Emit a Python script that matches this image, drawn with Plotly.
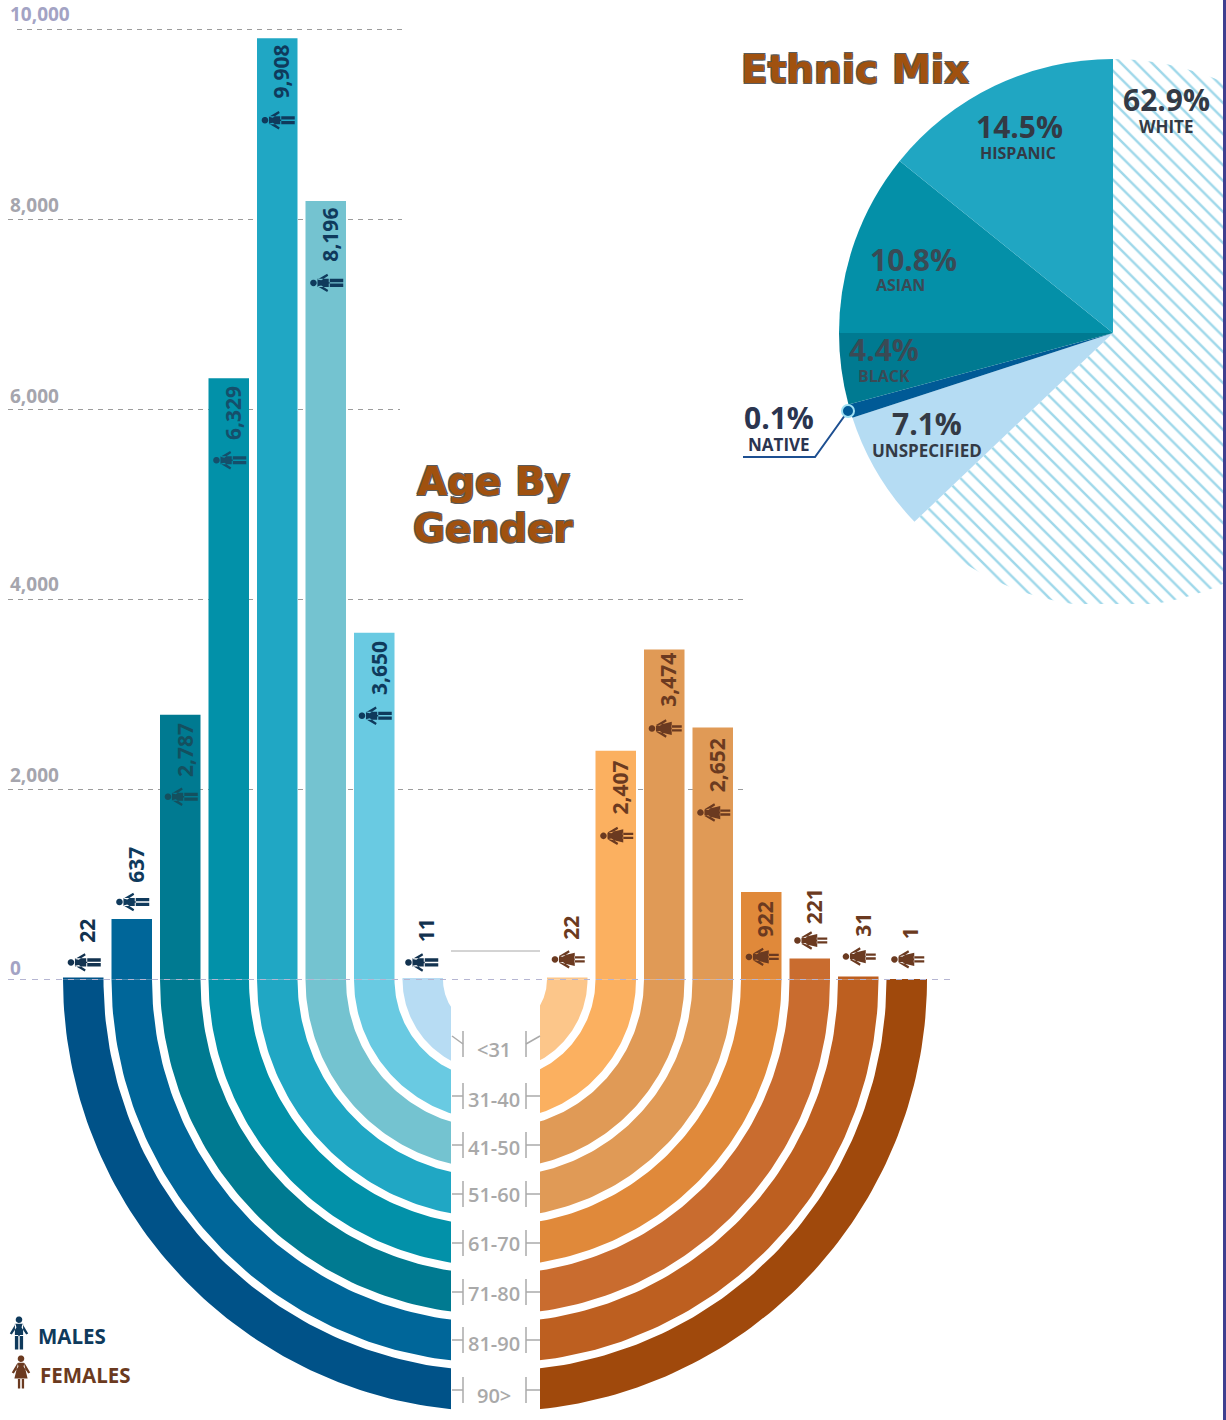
import numpy as np
import plotly.graph_objects as go

# ---------- data ----------
age_groups = ["<31", "31-40", "41-50", "51-60", "61-70", "71-80", "81-90", "90>"]
male_counts = [11, 3650, 8196, 9908, 6329, 2787, 637, 22]
female_counts = [22, 2407, 3474, 2652, 922, 221, 31, 1]
y_ticks = [0, 2000, 4000, 6000, 8000, 10000]

ethnic_names = ["WHITE", "UNSPECIFIED", "NATIVE", "BLACK", "ASIAN", "HISPANIC"]
ethnic_labels = ["62.9%", "7.1%", "0.1%", "4.4%", "10.8%", "14.5%"]
# drawn slice sizes as measured on the pie (the native wedge is drawn wider than its label)
ethnic_slices = [62.9, 7.1, 0.8, 4.2, 10.8, 14.2]

# ---------- styles ----------
male_colors = ["#b7dcf3", "#69cae2", "#74c3d0", "#20a7c4", "#0291a9", "#007a91", "#006699", "#005288"]
female_colors = ["#fcc68a", "#fbb060", "#e09a56", "#e09a56", "#e0893a", "#c96c2f", "#bd5f20", "#a0490c"]
male_text = ["#12324f", "#0f3a5c", "#0f3a5c", "#0f3a5c", "#154f6b", "#14505f", "#0f3a5c", "#12324f"]
pie_colors = ["#ffffff", "#b5dcf3", "#005a96", "#007a91", "#0490a8", "#20a6c2"]
FEMALE_TEXT = "#6b3a20"
NAVY = "#0f3a5c"
FONT = "Open Sans"
TITLE_FONT = "DejaVu Sans"
OUTLINE = "1px 1px 0 #5b5b5b, -1px -1px 0 #5b5b5b, 1px -1px 0 #5b5b5b, -1px 1px 0 #5b5b5b"

# ---------- layout constants ----------
W, H = 1400, 1420          # wider than the window: the pie runs off the right edge
Y0_PX = 979.5
SCALE = 0.095              # pixels per person
CX = 495
PITCH = 48.5
BAR_W = 40.5
R_OUT_MAX = 432


def val(py):
    return (Y0_PX - py) / SCALE


def px_of(v):
    return Y0_PX - v * SCALE


n = len(age_groups)
radii_out = [R_OUT_MAX - PITCH * (n - 1 - i) for i in range(n)]
male_x = [CX - r + BAR_W / 2 for r in radii_out]
female_x = [CX + r - BAR_W / 2 for r in radii_out]

fig = go.Figure()


def ring(r_out, theta0, theta1):
    t = np.radians(np.linspace(theta0, theta1, 90))
    r_in = r_out - BAR_W
    xs = np.r_[CX + r_out * np.cos(t), CX + r_in * np.cos(t[::-1])]
    ys = np.r_[r_out * np.sin(t), r_in * np.sin(t[::-1])] / SCALE
    return xs, ys


for i in range(n):
    for a, b, col in ((180, 270, male_colors[i]), (270, 360, female_colors[i])):
        xs, ys = ring(radii_out[i], a, b)
        fig.add_trace(go.Scatter(x=xs, y=ys, mode="lines", fill="toself", fillcolor=col,
                                 line=dict(width=0), hoverinfo="skip", showlegend=False))

fig.add_trace(go.Bar(x=male_x, y=male_counts, width=BAR_W, marker=dict(color=male_colors, line=dict(width=0)),
                     name="Males", showlegend=False))
fig.add_trace(go.Bar(x=female_x, y=female_counts, width=BAR_W, marker=dict(color=female_colors, line=dict(width=0)),
                     name="Females", showlegend=False))

hatch_fg = ["#9fd8ea"] * 6
fig.add_trace(go.Pie(
    values=ethnic_slices, labels=ethnic_names, sort=False, direction="clockwise", rotation=0,
    marker=dict(colors=pie_colors, line=dict(width=0),
                pattern=dict(shape=["\\", "", "", "", "", ""], fgcolor=hatch_fg, bgcolor=pie_colors,
                             size=11, solidity=0.22)),
    textinfo="none", showlegend=False,
    domain=dict(x=[839 / W, 1387 / W], y=[(H - 607) / H, (H - 59) / H]),
))

shapes = []
annots = []


def text(x, y, s, size, color, anchor="center", angle=0, yshift=0, xshift=0, family=FONT, weight=700, shadow=None):
    f = dict(family=family, size=size, color=color, weight=weight)
    if shadow:
        f["shadow"] = shadow
    annots.append(dict(x=x, y=y, text=s, showarrow=False, xref="x", yref="y", xanchor=anchor, yanchor="middle",
                       textangle=angle, yshift=yshift, xshift=xshift, font=f))


# ---------- gridlines and tick labels ----------
grid_right = {10000: 402, 8000: 402, 6000: 400, 4000: 743, 2000: 743}
for t in y_ticks[1:]:
    shapes.append(dict(type="line", layer="below", x0=17 if t == 10000 else 8, x1=grid_right[t], y0=t, y1=t,
                       line=dict(color="#9c9c9c", width=1, dash="5px 5px")))
tick_shift = {0: 12, 2000: 15, 4000: 16, 6000: 14, 8000: 15, 10000: 16}
for t in y_ticks:
    text(8, t, f"{t:,}", 19, "#a3a3c4" if t == 10000 or t == 0 else "#a5a5ad", anchor="left", yshift=tick_shift[t])


# ---------- pictograms ----------
def person(female):
    """polygons of an upright figure, 33 px tall, centred on the origin, u = across, v = down"""
    t = np.linspace(0, 2 * np.pi, 16)[:-1]
    polys = [list(zip(3.3 * np.cos(t), -13.3 + 3.3 * np.sin(t)))]
    for s in (-1, 1):
        polys.append([(s * 3.4, -9.3), (s * 9.2, 0.4), (s * 7.2, 1.5), (s * 2.6, -5.5)])
    if female:
        polys.append([(-2.8, -9.3), (2.8, -9.3), (6.6, 6.5), (-6.6, 6.5)])
        for s in (-1, 1):
            polys.append([(s * 0.8, 6), (s * 3.1, 6), (s * 3.1, 16.5), (s * 0.8, 16.5)])
    else:
        polys.append([(-4.1, -9.3), (4.1, -9.3), (4.1, 3), (-4.1, 3)])
        for s in (-1, 1):
            polys.append([(s * 0.7, 2), (s * 4.1, 2), (s * 4.1, 16.5), (s * 0.7, 16.5)])
    return polys


def add_person(cx, cy, female, color, rotated=True, k=1.0):
    d = ""
    for poly in person(female):
        pts = []
        for u, v in poly:
            if rotated:
                pts.append((cx + k * v, val(cy + k * u)))
            else:
                pts.append((cx + k * u, val(cy + k * v)))
        d += "M" + " L".join(f"{a:.2f},{b:.2f}" for a, b in pts) + " Z "
    shapes.append(dict(type="path", path=d, fillcolor=color, line=dict(width=0), layer="above"))


male_icon_off = [-16, 83, 82, 82, 82, 82, -17, -15]
male_label_off = [-48, 35, 34, 33, 35, 35, -54, -47]
female_icon_off = [-18, 85, 79, 85, 65, -18, -20, -20]
female_label_off = [-50, 37, 30, 38, 27, -52, -52, -46]

for i in range(n):
    add_person(male_x[i] + (1 if i else -1.0), px_of(male_counts[i]) + male_icon_off[i], False, male_text[i])
    text(male_x[i], male_counts[i], f"{male_counts[i]:,}", 21, male_text[i], angle=-90,
         yshift=-male_label_off[i], xshift=4)
    add_person(female_x[i] + 1, px_of(female_counts[i]) + female_icon_off[i], True, FEMALE_TEXT)
    text(female_x[i], female_counts[i], f"{female_counts[i]:,}", 21, FEMALE_TEXT, angle=-90,
         yshift=-female_label_off[i], xshift=4)

# ---------- centre column with the age scale ----------
shapes.append(dict(type="rect", layer="above", x0=451, x1=540, y0=val(951), y1=val(1420),
                   fillcolor="#ffffff", line=dict(width=0)))
shapes.append(dict(type="line", layer="above", x0=451, x1=540, y0=val(951), y1=val(951),
                   line=dict(color="#a8a8a8", width=1)))
shapes.append(dict(type="line", layer="above", x0=8, x1=952, y0=0, y1=0,
                   line=dict(color="#b5b5d2", width=1, dash="6px 6px")))
row_y = [1044, 1096, 1145, 1194, 1243, 1292, 1340, 1390]
text_y = [1049, 1099, 1147, 1194, 1243, 1293, 1343, 1395]
for i, lab in enumerate(age_groups):
    for xv, xs in ((463, 452), (526, 540)):
        shapes.append(dict(type="line", layer="above", x0=xv, x1=xv, y0=val(row_y[i] - 13), y1=val(row_y[i] + 13),
                           line=dict(color="#aaaaaa", width=1.5)))
        lift = 8 if i == 0 else 0
        shapes.append(dict(type="line", layer="above", x0=xv, x1=xs, y0=val(row_y[i]), y1=val(row_y[i] - lift),
                           line=dict(color="#aaaaaa", width=1.5)))
    text(494, val(text_y[i]), lab, 20, "#a9a9a9", weight=600)

# ---------- titles ----------
text(493, val(481), "Age By", 39, "#a0510f", family=TITLE_FONT, shadow=OUTLINE)
text(493, val(528), "Gender", 39, "#a0510f", family=TITLE_FONT, shadow=OUTLINE)
text(855, val(69), "Ethnic Mix", 39, "#a0510f", family=TITLE_FONT, shadow=OUTLINE)

# ---------- pie annotations ----------
PIE_TEXT = "#333a45"
pie_text_pos = {
    "WHITE": (1166, 99, 1166, 126, 17, PIE_TEXT),
    "UNSPECIFIED": (927, 423, 927, 450, 17, PIE_TEXT),
    "NATIVE": (779, 417, 779, 444, 17, "#2b3550"),
    "BLACK": (884, 349, 884, 376, 16, "#3a4a55"),
    "ASIAN": (913, 259, 900, 285, 16, "#3a4a55"),
    "HISPANIC": (1019, 126, 1018, 153, 16, PIE_TEXT),
}
for name, pct in zip(ethnic_names, ethnic_labels):
    x1, y1, x2, y2, sz, col = pie_text_pos[name]
    text(x1, val(y1), pct, 30, col)
    text(x2, val(y2), name, sz, col)

shapes.append(dict(type="path", layer="above", path=f"M848,{val(411)} L815,{val(457)} L743,{val(457)}",
                   line=dict(color="#1d4f91", width=2)))
shapes.append(dict(type="circle", layer="above", x0=842, x1=854, y0=val(417), y1=val(405),
                   fillcolor="#005a96", line=dict(color="#9fe0f2", width=2)))
# image edge: pie cut at the bottom and a rule on the right
shapes.append(dict(type="rect", layer="above", x0=830, x1=1400, y0=val(604), y1=val(612),
                   fillcolor="#ffffff", line=dict(width=0)))
shapes.append(dict(type="rect", layer="above", x0=1223, x1=1400, y0=val(0), y1=val(1420),
                   fillcolor="#ffffff", line=dict(width=0)))
shapes.append(dict(type="rect", layer="above", x0=1223, x1=1226, y0=val(0), y1=val(1420),
                   fillcolor="#3f3f8f", line=dict(width=0)))

# ---------- legend ----------
add_person(19, 1333, False, NAVY, rotated=False)
add_person(21, 1372, True, FEMALE_TEXT, rotated=False)
text(36, val(1336), "MALES", 20.5, NAVY, anchor="left")
text(38, val(1375), "FEMALES", 20.5, FEMALE_TEXT, anchor="left")

fig.update_layout(
    width=W, height=H, margin=dict(l=0, r=0, t=0, b=0), autosize=False,
    paper_bgcolor="#ffffff", plot_bgcolor="#ffffff", barmode="overlay", showlegend=False,
    xaxis=dict(range=[0, W], visible=False, fixedrange=True),
    yaxis=dict(range=[val(H), val(0)], visible=False, fixedrange=True),
    shapes=shapes, annotations=annots,
)

fig.write_html("out.html", config=dict(displayModeBar=False),
               post_script="document.body.style.margin='0';document.documentElement.style.overflow='hidden';document.body.style.overflow='hidden';")
